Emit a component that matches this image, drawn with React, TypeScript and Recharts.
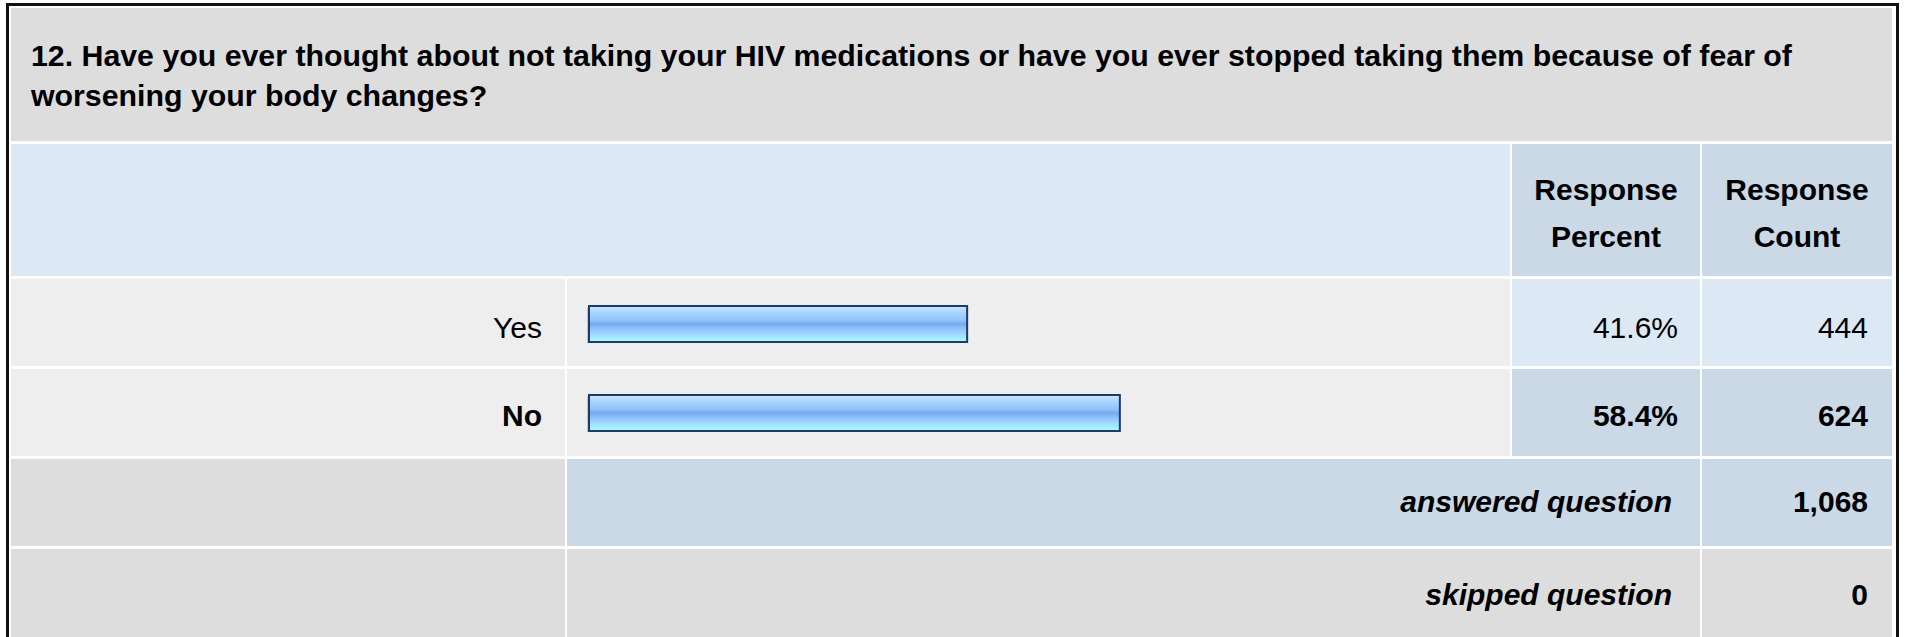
import React from "react";
import { BarChart, Bar, XAxis, YAxis } from "recharts";

// survey question + answers
const questionLines = [
    "12. Have you ever thought about not taking your HIV medications or have you ever stopped taking them because of fear of",
    "worsening your body changes?",
];
const answers = ["Yes", "No"];
const percents = [41.6, 58.4];
const counts = [444, 624];
const headerPercent = ["Response", "Percent"];
const headerCount = ["Response", "Count"];
const answeredCount = "1,068";
const skippedCount = "0";

const FONT = "'Liberation Sans', Arial, Helvetica, sans-serif";
const FS = 30;

// column / row edges (px)
const COL = { label: [11, 565], bar: [567, 1510], pct: [1512, 1700], cnt: [1702, 1892] };
const ROW = {
    title: [8, 141],
    head: [144, 276],
    yes: [279, 366],
    no: [369, 456],
    answered: [459, 546],
    skipped: [549, 650],
};

const Cell = ({ x, y, bg }: { x: number[]; y: number[]; bg: string }) => (
    <div
        style={{
            position: "absolute",
            left: x[0],
            top: y[0],
            width: x[1] - x[0],
            height: y[1] - y[0],
            background: bg,
        }}
    />
);

// text placed by its baseline
const Txt = ({
    x,
    base,
    align = "left",
    bold = false,
    italic = false,
    fs = FS,
    children,
}: {
    x: number;
    base: number;
    align?: "left" | "right" | "center";
    bold?: boolean;
    italic?: boolean;
    fs?: number;
    children: React.ReactNode;
}) => {
    const w = 2000;
    const left = align === "left" ? x : align === "right" ? x - w : x - w / 2;
    return (
        <div
            style={{
                position: "absolute",
                left,
                width: w,
                top: base - fs * 0.8465,
                fontSize: fs,
                lineHeight: `${fs}px`,
                fontFamily: FONT,
                fontWeight: bold ? "bold" : "normal",
                fontStyle: italic ? "italic" : "normal",
                textAlign: align,
                whiteSpace: "nowrap",
                color: "#000",
            }}
        >
            {children}
        </div>
    );
};

const BarShape = (props: any) => {
    const { x, y, width, height } = props;
    return (
        <g>
            <rect x={x - 2} y={y + 1} width={width} height={height} fill="#9aa8ba" opacity={0.6} />
            <rect
                x={x}
                y={y}
                width={width}
                height={height}
                fill="url(#barGrad)"
                stroke="#1c3b66"
                strokeWidth={2}
            />
        </g>
    );
};

export default function App() {
    const data = answers.map((a, i) => ({ answer: a, pct: percents[i] }));
    const pctCenter = (COL.pct[0] + COL.pct[1]) / 2;
    const cntCenter = (COL.cnt[0] + COL.cnt[1]) / 2;
    const rowsY = [ROW.yes, ROW.no];
    return (
        <div style={{ position: "absolute", left: 0, top: 0, width: 1907, height: 637, overflow: "hidden", background: "#fff" }}>
            {/* outer frame */}
            <div
                style={{
                    position: "absolute",
                    left: 6,
                    top: 3,
                    width: 1893 - 6,
                    height: 700,
                    border: "3px solid #111",
                    background: "#fff",
                }}
            />
            {/* backgrounds */}
            <Cell x={[COL.label[0], COL.cnt[1]]} y={ROW.title} bg="#dddddd" />
            <Cell x={[COL.label[0], COL.bar[1]]} y={ROW.head} bg="#dde8f5" />
            <Cell x={COL.pct} y={ROW.head} bg="#cbd8e6" />
            <Cell x={COL.cnt} y={ROW.head} bg="#cbd8e6" />
            {rowsY.map((r, i) => (
                <React.Fragment key={i}>
                    <Cell x={COL.label} y={r} bg="#eeeeee" />
                    <Cell x={COL.bar} y={r} bg="#eeeeee" />
                    <Cell x={COL.pct} y={r} bg={i === 0 ? "#dde8f5" : "#cbd8e6"} />
                    <Cell x={COL.cnt} y={r} bg={i === 0 ? "#dde8f5" : "#cbd8e6"} />
                </React.Fragment>
            ))}
            <Cell x={COL.label} y={ROW.answered} bg="#dddddd" />
            <Cell x={[COL.bar[0], COL.pct[1]]} y={ROW.answered} bg="#cbd8e6" />
            <Cell x={COL.cnt} y={ROW.answered} bg="#cbd8e6" />
            <Cell x={COL.label} y={ROW.skipped} bg="#dddddd" />
            <Cell x={[COL.bar[0], COL.pct[1]]} y={ROW.skipped} bg="#dddddd" />
            <Cell x={COL.cnt} y={ROW.skipped} bg="#dddddd" />

            {/* title */}
            {questionLines.map((l, i) => (
                <Txt key={i} x={31} base={67 + i * 40} bold fs={30.3}>
                    {l}
                </Txt>
            ))}

            {/* header */}
            <Txt x={pctCenter} base={200} align="center" bold>{headerPercent[0]}</Txt>
            <Txt x={pctCenter} base={247} align="center" bold>{headerPercent[1]}</Txt>
            <Txt x={cntCenter} base={200} align="center" bold>{headerCount[0]}</Txt>
            <Txt x={cntCenter} base={247} align="center" bold>{headerCount[1]}</Txt>

            {/* answer rows */}
            {answers.map((a, i) => {
                const base = (rowsY[i][0] + rowsY[i][1]) / 2 + (i === 0 ? 16 : 14);
                const bold = i === 1;
                return (
                    <React.Fragment key={a}>
                        <Txt x={542} base={base} align="right" bold={bold}>{a}</Txt>
                        <Txt x={1678} base={base} align="right" bold={bold}>{percents[i].toFixed(1)}%</Txt>
                        <Txt x={1868} base={base} align="right" bold={bold}>{counts[i]}</Txt>
                    </React.Fragment>
                );
            })}

            <Txt x={1672} base={512} align="right" bold italic>answered question</Txt>
            <Txt x={1868} base={512} align="right" bold>{answeredCount}</Txt>
            <Txt x={1672} base={605} align="right" bold italic>skipped question</Txt>
            <Txt x={1868} base={605} align="right" bold>{skippedCount}</Txt>

            {/* bars */}
            <div style={{ position: "absolute", left: COL.bar[0], top: ROW.yes[0], width: 943, height: 178 }}>
                <BarChart
                    width={943}
                    height={178}
                    data={data}
                    layout="vertical"
                    margin={{ top: 0, bottom: 0, left: 22, right: 12 }}
                >
                    <defs>
                        <linearGradient id="barGrad" x1="0" y1="0" x2="0" y2="1">
                            <stop offset="0" stopColor="#cce8ff" />
                            <stop offset="0.2" stopColor="#a6d2ff" />
                            <stop offset="0.4" stopColor="#8fc2fb" />
                            <stop offset="0.5" stopColor="#74a9ee" />
                            <stop offset="0.62" stopColor="#8cc0fa" />
                            <stop offset="0.8" stopColor="#a0dcff" />
                            <stop offset="1" stopColor="#aaffff" />
                        </linearGradient>
                    </defs>
                    <XAxis type="number" domain={[0, 100]} hide />
                    <YAxis type="category" dataKey="answer" hide />
                    <Bar dataKey="pct" barSize={36} shape={<BarShape />} isAnimationActive={false} />
                </BarChart>
            </div>
        </div>
    );
}
